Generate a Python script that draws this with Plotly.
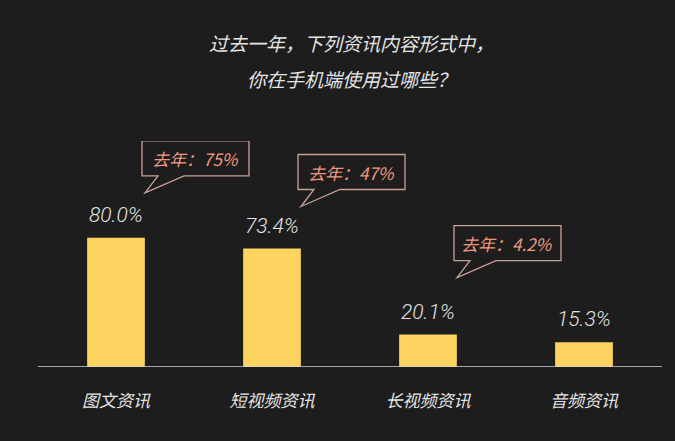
import plotly.graph_objects as go

categories = ['图文资讯', '短视频资讯', '长视频资讯', '音频资讯']
values_this_year = [80.0, 73.4, 20.1, 15.3]
# only three formats have a value for last year
last_year_labels = ['75%', '47%', '4.2%', None]

BG = '#1d1d1d'
BAR_COLOR = '#fdd35f'
TEXT_COLOR = '#e4e4e4'
CALLOUT_TEXT = '#f0987f'
CALLOUT_LINE = '#c8a096'
CN_FONT = 'Noto Sans CJK SC'

# height of each callout tail tip above its bar top (px)
TAIL_LIFT = [45, 42, 57, 0]

fig = go.Figure()

fig.add_trace(go.Bar(
    x=list(range(len(categories))),
    y=values_this_year,
    marker=dict(color=BAR_COLOR, line=dict(width=0)),
    width=0.37,
    hoverinfo='skip',
))

# value labels above the bars
for i, v in enumerate(values_this_year):
    fig.add_annotation(
        x=i, y=v, text=f'{v:.1f}%', showarrow=False,
        yshift=23, font=dict(family='Roboto', size=21, color=TEXT_COLOR, style='italic', weight=300),
    )


def callout_path(lift):
    # speech bubble outline, pixel offsets from the bar top (y up)
    x0, x1 = 26, 133
    yb, yt = lift + 17, lift + 52
    return (f'M {x0+16},{yb} L {x0},{yb} L {x0},{yt} L {x1},{yt} L {x1},{yb} '
            f'L {x0+42},{yb} L {x0+3},{lift} Z')


for i, lbl in enumerate(last_year_labels):
    if lbl is None:
        continue
    lift = TAIL_LIFT[i]
    fig.add_shape(
        type='path', xref='x', yref='y', xsizemode='pixel', ysizemode='pixel',
        xanchor=i, yanchor=values_this_year[i], path=callout_path(lift),
        line=dict(color=CALLOUT_LINE, width=1.3), fillcolor=BG, layer='above',
    )
    fig.add_annotation(
        x=i, y=values_this_year[i], text=f'去年：{lbl}', showarrow=False,
        xshift=79, yshift=lift + 34,
        font=dict(family=CN_FONT, size=17, color=CALLOUT_TEXT, style='italic'),
    )

# baseline
fig.add_shape(type='line', xref='paper', yref='y', x0=0, x1=1, y0=0, y1=0,
              line=dict(color='#d6d6d6', width=1.5), layer='above')

title_lines = ['过去一年，下列资讯内容形式中，', '你在手机端使用过哪些？']
for line, shift in zip(title_lines, [99, 63]):
    fig.add_annotation(
        xref='paper', yref='paper', x=0.503, y=1.0, yshift=shift, yanchor='middle',
        text=line, showarrow=False,
        font=dict(family=CN_FONT, size=19, color=TEXT_COLOR, style='italic'),
    )

fig.update_layout(
    width=675, height=441,
    margin=dict(l=38, r=13, t=141, b=74),
    paper_bgcolor=BG, plot_bgcolor=BG,
    showlegend=False,
    xaxis=dict(
        range=[-0.5, 3.5], tickvals=list(range(len(categories))), ticktext=categories,
        showgrid=False, zeroline=False, showline=False, ticks='',
        tickfont=dict(family=CN_FONT, size=17, color=TEXT_COLOR, style='italic'),
        ticklabelstandoff=22, fixedrange=True,
    ),
    yaxis=dict(
        range=[0, 140], visible=False, showgrid=False, zeroline=False, fixedrange=True,
    ),
)

fig.write_html('out.html', config={'displayModeBar': False},
               post_script="document.body.style.margin='0';document.body.style.overflow='hidden';")
